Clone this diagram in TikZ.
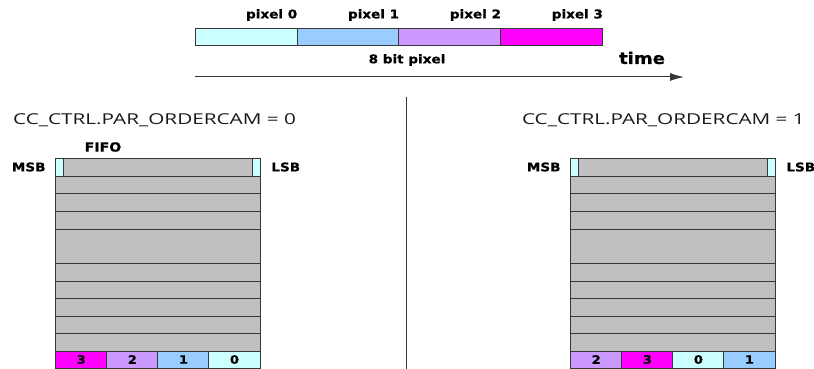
\documentclass[tikz,border=0pt]{standalone}
\usepackage{fontspec}
\usetikzlibrary{calc,arrows.meta}
\newfontfamily\lablfont[FakeStretch=1.13,FakeBold=0.8]{DejaVu Sans Bold}
\newfontfamily\headfont[FakeStretch=1.38]{Open Sans}
\definecolor{pxzero}{RGB}{204,255,255}
\definecolor{pxone}{RGB}{153,204,255}
\definecolor{pxtwo}{RGB}{204,153,255}
\definecolor{pxthree}{RGB}{255,0,255}
\definecolor{fifogray}{RGB}{192,192,192}
\definecolor{edge}{RGB}{55,55,55}
\definecolor{ink}{RGB}{25,25,25}
\tikzset{
  pcell/.style={draw=edge,line width=0.9pt,inner sep=0pt,
    minimum width=101.9pt,minimum height=17pt},
  bcell/.style={draw=edge,line width=0.9pt,inner sep=0pt,
    minimum width=51.1pt,minimum height=17pt,font=\lablfont\fontsize{11.5}{13}\selectfont},
  blab/.style={font=\lablfont\fontsize{12}{14}\selectfont,inner sep=0pt},
  hlab/.style={font=\headfont\fontsize{15}{17}\selectfont,text=ink,inner sep=0pt},
  frow/.style={edge,line width=0.9pt},
  tarrow/.style={edge,line width=1pt,-{Latex[length=14pt,width=8pt]}},
}

\begin{document}
\begin{tikzpicture}[x=1pt,y=-1pt]
  \useasboundingbox (0,0) rectangle (814,369);
  % pixel stream
  \foreach \i/\c in {0/pxzero,1/pxone,2/pxtwo,3/pxthree} {
    \node[pcell,fill=\c] (p\i) at ({246+101.9*\i},37) {};
    \node[blab,anchor=east] (l\i) at ([yshift=13pt]p\i.north east) {pixel \i};}
  \coordinate (t0) at (195,77); \coordinate (t1) at (684,77);
  \draw[tarrow] (t0) -- (t1);
  \node[blab] (bits) at (407,60) {8 bit pixel};
  \node[font=\lablfont\fontsize{16}{18}\selectfont,inner sep=0pt] (time) at (642,58) {time};
  % divider
  \coordinate (d0) at (406,97); \coordinate (d1) at (406,369);
  \draw[edge,line width=0.9pt] (d0) -- (d1);
  % the two fifos
  \foreach \fx/\n/\order in {55.7/a/{3,2,1,0},570.7/b/{2,3,0,1}} {
    \fill[fifogray] (\fx,158) rectangle (\fx+204.3,351);
    \foreach \ry in {176,193,211,229,263,281,298,316,333,351}
      \draw[frow] (\fx,\ry) -- (\fx+204.3,\ry);
    \draw[frow] (\fx,369) -- (\fx,158) -- (\fx+204.3,158) -- (\fx+204.3,369);
    \draw[frow,fill=pxzero] (\fx,158) rectangle (\fx+7.3,176);
    \draw[frow,fill=pxzero] (\fx+197,158) rectangle (\fx+204.3,176);
    \coordinate (top\n) at (\fx,167);
    \node[blab,anchor=east] (msb\n) at ([xshift=-10pt]top\n) {MSB};
    \node[blab,anchor=west] (lsb\n) at ([xshift=215.5pt]top\n) {LSB};
    \foreach \v [count=\k from 0] in \order {
      \ifcase\v \def\c{pxzero}\or \def\c{pxone}\or \def\c{pxtwo}\or \def\c{pxthree}\fi
      \node[bcell,fill=\c] (c\n\k) at ({\fx+25.55+51.07*\k},359.5) {\v};}
  }
  \node[blab,font=\lablfont\fontsize{12.5}{14}\selectfont] (fifo) at (103,147) {FIFO};
  \node[hlab,anchor=west] (hdra) at (13,120) {CC\_CTRL.PAR\_ORDERCAM = 0};
  \node[hlab,anchor=east] (hdrb) at (805,120) {CC\_CTRL.PAR\_ORDERCAM = 1};
\end{tikzpicture}
\end{document}
